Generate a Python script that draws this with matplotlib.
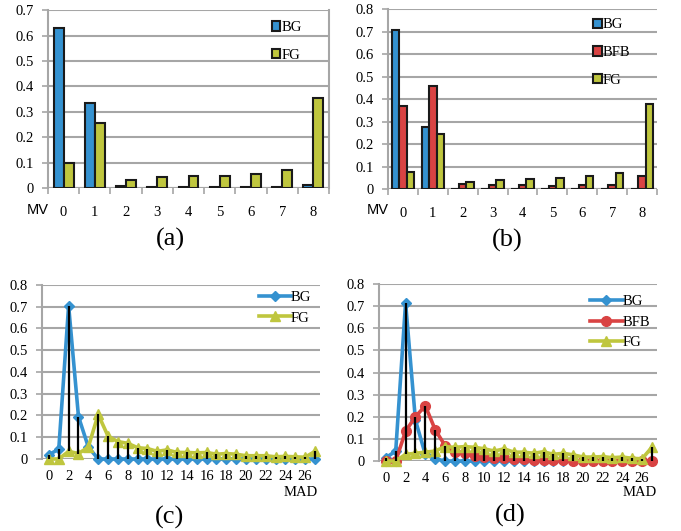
import numpy as np
import matplotlib
matplotlib.use("Agg")
import matplotlib.pyplot as plt

plt.rcParams['font.family'] = ['Liberation Serif', 'DejaVu Serif']

# colours
BLUE = '#3592D0'
RED = '#D94343'
YEL = '#BFC63E'
GRID = '#A6A6A6'

# (a) bar chart, MV categories
mv_cats = [0, 1, 2, 3, 4, 5, 6, 7, 8]
a_bg = [0.63, 0.335, 0.008, 0.003, 0.003, 0.003, 0.003, 0.003, 0.012]
a_fg = [0.097, 0.255, 0.032, 0.042, 0.047, 0.047, 0.055, 0.072, 0.353]

# (b) bar chart
b_bg = [0.705, 0.275, 0, 0, 0, 0, 0, 0, 0]
b_bfb = [0.367, 0.46, 0.022, 0.018, 0.018, 0.012, 0.018, 0.018, 0.058]
b_fg = [0.075, 0.245, 0.032, 0.038, 0.043, 0.048, 0.058, 0.072, 0.378]

# (c) line chart, MAD 0..27
mad = list(range(28))
c_bg = [0.02, 0.045, 0.705, 0.195, 0.055] + [0] * 23
c_fg = [0, 0, 0.035, 0.025, 0.055, 0.205, 0.105, 0.08, 0.072, 0.052, 0.048, 0.035,
        0.042, 0.03, 0.03, 0.028, 0.03, 0.022, 0.025, 0.022, 0.015, 0.015, 0.015,
        0.01, 0.012, 0.01, 0.008, 0.035]

# (d) line chart
d_bg = [0.015, 0.045, 0.715, 0.185, 0.03, 0.01] + [0] * 22
d_bfb = [0, 0, 0.135, 0.2, 0.25, 0.142, 0.07, 0.04, 0.035, 0.022, 0.02, 0.012,
         0.012, 0.008, 0.008, 0.005, 0.005, 0.003, 0.003, 0.002, 0, 0, 0, 0, 0,
         0, 0, 0]
d_fg = [0, 0, 0.03, 0.035, 0.04, 0.045, 0.065, 0.062, 0.065, 0.062, 0.055, 0.045,
        0.055, 0.04, 0.04, 0.035, 0.042, 0.03, 0.035, 0.028, 0.018, 0.018, 0.02,
        0.015, 0.018, 0.012, 0.01, 0.062]

fig = plt.figure(figsize=(6.81, 5.31), dpi=100)


def style_axes(ax, ymax, right=False):
    ax.set_ylim(0, ymax)
    ax.set_yticks(np.arange(0, ymax + 0.001, 0.1))
    ax.set_yticklabels(['0'] + ['%.1f' % v for v in np.arange(0.1, ymax + 0.001, 0.1)])
    ax.yaxis.grid(True, color=GRID, lw=1.5)
    ax.set_axisbelow(True)
    for s in ['top', 'right', 'bottom']:
        ax.spines[s].set_visible(False)
    ax.spines['left'].set_color(GRID)
    ax.spines['left'].set_linewidth(1.5)
    if right:
        ax.spines['right'].set_visible(True)
        ax.spines['right'].set_color(GRID)
        ax.spines['right'].set_linewidth(1.5)
    ax.tick_params(axis='y', length=4, color=GRID, width=1.2, labelsize=10.5, pad=6)


def bar_panel(rect, series, colors, labels, ymax, width, right=False, leg_anchor=None):
    ax = fig.add_axes(rect)
    x = np.arange(len(mv_cats))
    n = len(series)
    for i, (vals, col, lab) in enumerate(zip(series, colors, labels)):
        off = (i - (n - 1) / 2) * width
        ax.bar(x + off, vals, width, color=col, edgecolor='#1a1a1a', lw=1.5, label=lab, zorder=3)
    style_axes(ax, ymax, right)
    ax.set_xlim(-0.5, len(mv_cats) - 0.5)
    ax.axhline(0, color=GRID, lw=1.5, zorder=2)
    ax.set_xticks(x)
    ax.set_xticklabels([str(c) for c in mv_cats])
    ax.set_xticks(np.arange(-0.5, len(mv_cats)), minor=True)
    ax.tick_params(axis='x', which='major', length=0, labelsize=10.5, pad=13)
    ax.tick_params(axis='x', which='minor', length=4, color=GRID, width=1.2)
    ax.legend(loc='upper left', bbox_to_anchor=leg_anchor, frameon=False, fontsize=10.5,
              handlelength=0.6, handleheight=0.6, handletextpad=0.1, labelspacing=1.0,
              borderaxespad=0)
    return ax


def line_panel(rect, series, colors, labels, markers, msizes, leg_anchor):
    ax = fig.add_axes(rect)
    arr = np.array(series)
    hi = arr.max(axis=0)
    lo = arr.min(axis=0)
    # high-low lines
    ax.vlines(mad, lo, hi, color='black', lw=1.6, zorder=5)
    for vals, col, lab, m, ms in zip(series, colors, labels, markers, msizes):
        ax.plot(mad, vals, color=col, lw=2.6, marker=m, ms=ms, label=lab, zorder=4,
                clip_on=False)
    style_axes(ax, 0.8)
    ax.set_xlim(-0.7, 27.5)
    ax.set_xticks(mad[::2])
    ax.tick_params(axis='x', length=0, labelsize=10.5, pad=8)
    ax.legend(loc='upper left', bbox_to_anchor=leg_anchor, frameon=False, fontsize=10.5,
              handlelength=2.2, handletextpad=0.0, labelspacing=0.5, borderaxespad=0)
    return ax


bar_panel([0.0705, 0.646, 0.4126, 0.335], [a_bg, a_fg], [BLUE, YEL], ['BG', 'FG'],
          0.7, 0.32, right=True, leg_anchor=(0.775, 0.97))
bar_panel([0.5697, 0.644, 0.395, 0.339], [b_bg, b_bfb, b_fg], [BLUE, RED, YEL],
          ['BG', 'BFB', 'FG'], 0.8, 0.25, leg_anchor=(0.74, 0.98))
line_panel([0.0617, 0.1356, 0.408, 0.3277], [c_bg, c_fg], [BLUE, YEL], ['BG', 'FG'],
           ['D', '^'], [5, 7], (0.76, 1.0))
line_panel([0.5565, 0.1318, 0.408, 0.3333], [d_bg, d_bfb, d_fg], [BLUE, RED, YEL],
           ['BG', 'BFB', 'FG'], ['D', 'o', '^'], [5, 7, 7], (0.74, 0.97))

# axis captions
fig.text(27 / 681, 1 - 210 / 531, 'MV', fontsize=10.5, family='Liberation Sans', va='center')
fig.text(367 / 681, 1 - 210 / 531, 'MV', fontsize=10.5, family='Liberation Sans', va='center')
fig.text(284 / 681, 1 - 492 / 531, 'MAD', fontsize=10.5, va='center')
fig.text(623 / 681, 1 - 492 / 531, 'MAD', fontsize=10.5, va='center')

# panel labels
for lab, x, y in [('(a)', 170, 239), ('(b)', 507, 240), ('(c)', 170, 517), ('(d)', 510, 515)]:
    fig.text(x / 681, 1 - y / 531, lab, fontsize=19, ha='center', va='center')

fig.savefig('out.png', dpi=100)
